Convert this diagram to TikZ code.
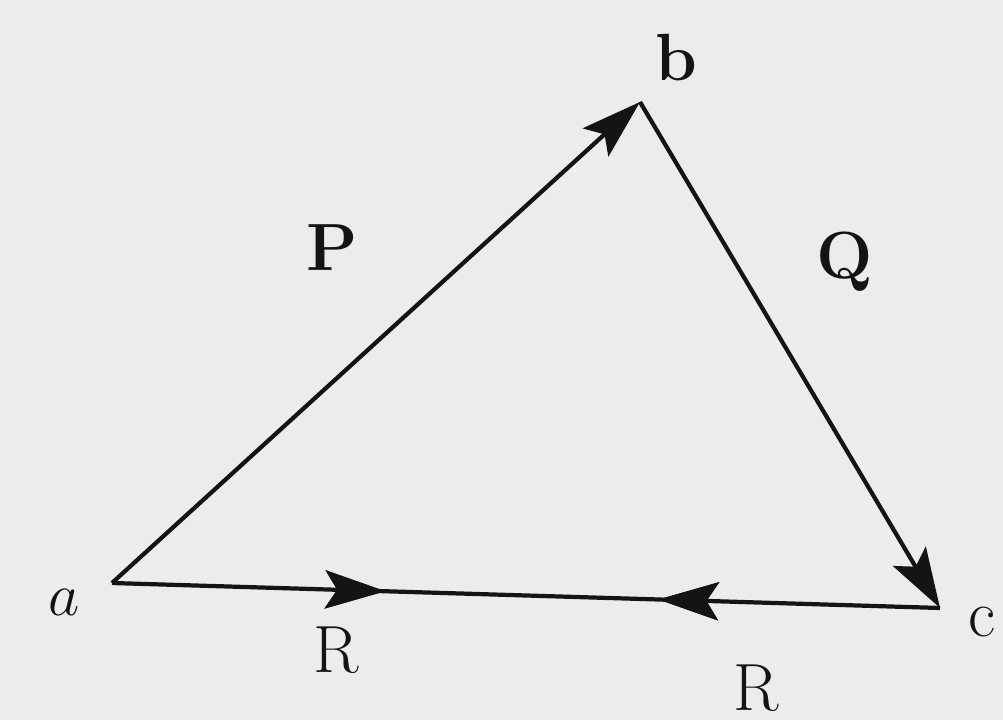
\documentclass[tikz,border=0pt]{standalone}
\usepackage{xcolor}
\definecolor{paper}{RGB}{236,236,236}
\definecolor{ink}{RGB}{20,20,20}
\usetikzlibrary{arrows.meta,decorations.markings}

\begin{document}
\begin{tikzpicture}[every node/.style={font=\fontsize{19}{22}\selectfont, text=ink},
  side/.style={draw=ink, line width=1.2pt},
  tip/.tip={Stealth[length=6mm,width=3.8mm,inset=1.2mm]},
  headfwd/.style={postaction={decorate}, decoration={markings,
    mark=at position #1 with {\arrow{tip}}}},
  headback/.style={postaction={decorate}, decoration={markings,
    mark=at position #1 with {\arrowreversed{tip}}}}]
\fill[paper] (0,0) rectangle (10.03,7.2);
\useasboundingbox (0,0) rectangle (10.03,7.2);
% vertices
\coordinate (a) at (1.12,1.37);
\coordinate (b) at (6.40,6.18);
\coordinate (c) at (9.40,1.12);
% sides
\draw[side, -tip] (a) -- (b);
\draw[side, -tip] (b) -- (c);
\draw[side, headfwd=0.33, headback=0.66] (a) -- (c);
% labels
\node (la) at (0.64,1.18) {$a$};
\node (lb) at (6.76,6.62) {\textbf{b}};
\node (lc) at (9.82,0.98) {c};
\node (lP) at (3.32,4.72) {\textbf{P}};
\node (lQ) at (8.45,4.58) {\textbf{Q}};
\node (lR1) at (3.36,0.70) {R};
\node (lR2) at (7.56,0.32) {R};
\end{tikzpicture}
\end{document}
